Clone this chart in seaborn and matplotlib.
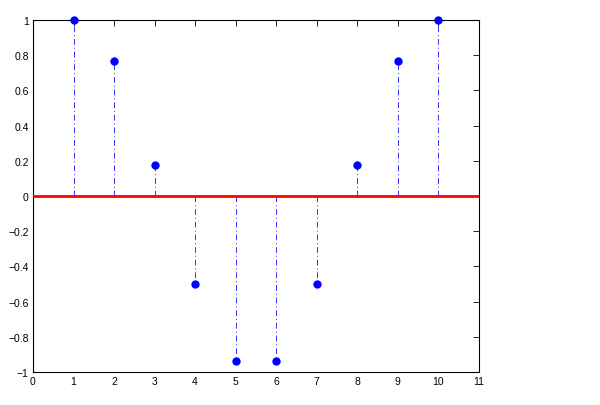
import matplotlib
matplotlib.use("Agg")
import matplotlib.pyplot as plt
import seaborn as sns
import pandas as pd

n = [1, 2, 3, 4, 5, 6, 7, 8, 9, 10]
values = [1.0, 0.766, 0.174, -0.5, -0.94, -0.94, -0.5, 0.174, 0.766, 1.0]
xticks = [0, 1, 2, 3, 4, 5, 6, 7, 8, 9, 10, 11]
yticks = [-1, -0.8, -0.6, -0.4, -0.2, 0, 0.2, 0.4, 0.6, 0.8, 1]

sns.set_style("white")
plt.rcParams['font.family'] = ['Liberation Sans', 'DejaVu Sans']

df = pd.DataFrame({"n": n, "v": values})

fig = plt.figure(figsize=(6.0, 4.06), dpi=100)
ax = fig.add_axes([0.055, 0.0813, 0.743, 0.867])

ax.vlines(df["n"], 0, df["v"], colors="#3333ff", linestyles=(0, (6, 3, 1, 3)), linewidth=0.7)
ax.axhline(0, color="#ff0000", linewidth=2, zorder=3)
sns.scatterplot(data=df, x="n", y="v", ax=ax, color="#0000ff", s=36, edgecolor="#0000ff",
                linewidth=0, zorder=4, clip_on=False)

ax.set_xlim(0, 11)
ax.set_ylim(-1, 1)
ax.set_xticks(xticks)
ax.set_yticks(yticks)
ax.set_xticklabels([str(t) for t in xticks])
ax.set_yticklabels(["\u22121", "\u22120.8", "\u22120.6", "\u22120.4", "\u22120.2", "0", "0.2", "0.4", "0.6", "0.8", "1"])
ax.set_xlabel("")
ax.set_ylabel("")
ax.tick_params(direction="in", length=4, width=0.6, labelsize=7.5, top=True, right=True, colors="black", pad=3)
for s in ax.spines.values():
    s.set_color("black")
    s.set_linewidth(0.8)

fig.savefig("out.png", dpi=100, facecolor="white")
